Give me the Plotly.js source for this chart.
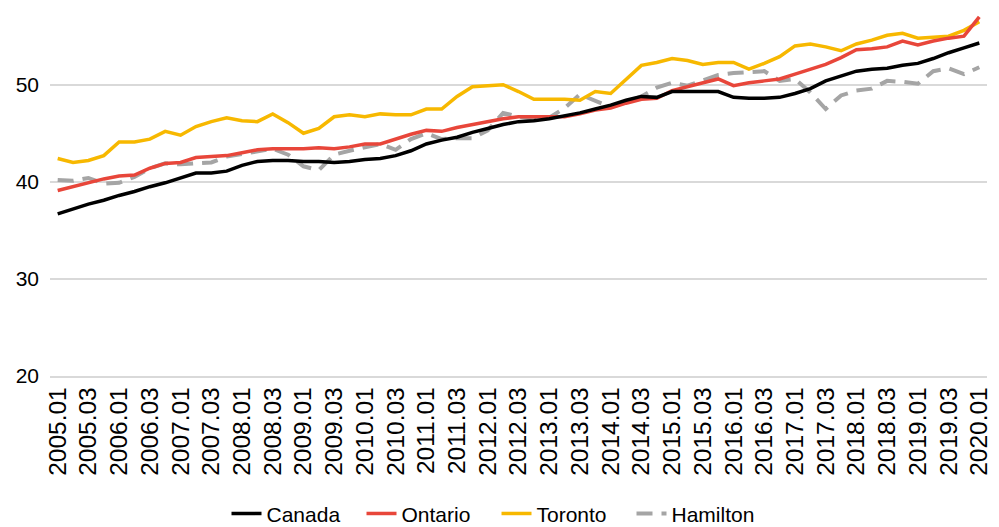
<!DOCTYPE html>
<html>
<head>
<meta charset="utf-8">
<script src="https://cdn.plot.ly/plotly-3.0.1.min.js"></script>
<style>html,body{margin:0;padding:0;background:#fff;}#chart{width:999px;height:527px;}</style>
</head>
<body>
<div id="chart"></div>
<script>
const years = [2005,2006,2007,2008,2009,2010,2011,2012,2013,2014,2015,2016,2017,2018,2019];
const quarters = ["01","02","03","04"];
const periods = [];
for (const y of years) for (const q of quarters) periods.push(y + "." + q);
periods.push("2020.01");

const canada = [36.7,37.2,37.7,38.1,38.6,39.0,39.5,39.9,40.4,40.9,
  40.9,41.1,41.7,42.1,42.2,42.2,42.1,42.1,42.0,42.1,
  42.3,42.4,42.7,43.2,43.9,44.3,44.6,45.1,45.5,45.9,
  46.2,46.3,46.5,46.8,47.1,47.5,47.9,48.4,48.8,48.7,
  49.3,49.3,49.3,49.3,48.7,48.6,48.6,48.7,49.1,49.6,
  50.4,50.9,51.4,51.6,51.7,52.0,52.2,52.7,53.3,53.8,54.3];
const ontario = [39.1,39.5,39.9,40.3,40.6,40.7,41.4,41.9,42.0,42.5,
  42.6,42.7,43.0,43.3,43.4,43.4,43.4,43.5,43.4,43.6,
  43.9,43.9,44.4,44.9,45.3,45.2,45.6,45.9,46.2,46.5,
  46.7,46.7,46.7,46.7,47.0,47.4,47.6,48.1,48.5,48.6,
  49.4,49.8,50.2,50.6,49.9,50.2,50.4,50.6,51.1,51.6,
  52.1,52.8,53.6,53.7,53.9,54.5,54.1,54.5,54.8,55.0,57.0];
const toronto = [42.4,42.0,42.2,42.7,44.1,44.1,44.4,45.2,44.8,45.7,
  46.2,46.6,46.3,46.2,47.0,46.1,45.0,45.5,46.7,46.9,
  46.7,47.0,46.9,46.9,47.5,47.5,48.8,49.8,49.9,50.0,
  49.3,48.5,48.5,48.5,48.4,49.3,49.1,50.6,52.0,52.3,
  52.7,52.5,52.1,52.3,52.3,51.6,52.2,52.9,54.0,54.2,
  53.9,53.5,54.2,54.6,55.1,55.3,54.8,54.9,55.0,55.6,56.5];
const hamilton = [40.2,40.1,40.4,39.8,39.9,40.5,41.4,41.9,41.8,41.9,
  42.0,42.6,42.9,43.1,43.4,42.8,41.6,41.2,42.8,43.2,
  43.6,43.9,43.3,44.4,45.0,44.4,44.5,44.5,45.3,47.1,
  46.7,46.5,46.6,47.6,49.0,48.3,47.7,48.2,48.8,49.7,
  50.2,49.9,50.5,51.0,51.2,51.3,51.4,50.4,50.6,49.2,
  47.5,48.9,49.4,49.6,50.4,50.3,50.1,51.4,51.7,51.1,51.8];

const tickLabels = periods.filter((p, i) => i % 2 === 0);
const yTicks = [20, 30, 40, 50];

const seriesNames = ["Canada", "Ontario", "Toronto", "Hamilton"];
const seriesData = [canada, ontario, toronto, hamilton];
const seriesColors = ["#000000", "#E8463A", "#F7B800", "#A5A5A5"];
const seriesDash = ["solid", "solid", "solid", "16px,9px"];
const seriesWidth = [3.5, 3.5, 3.5, 4];

const traces = seriesNames.map((n, k) => ({
  type: "scatter", mode: "lines", name: n,
  x: periods, y: seriesData[k],
  line: {color: seriesColors[k], width: seriesWidth[k], dash: seriesDash[k]},
  hoverinfo: "x+y+name"
}));
const ordered = [traces[3], traces[2], traces[1], traces[0]];

const font = '"Liberation Sans", Arial, sans-serif';
const layout = {
  width: 999, height: 527,
  margin: {l: 50, r: 12, t: 10, b: 151},
  paper_bgcolor: "#ffffff", plot_bgcolor: "#ffffff",
  showlegend: true,
  legend: {orientation: "h", x: 0.497, xref: "container", xanchor: "center",
    y: 0.025, yref: "container", yanchor: "middle",
    font: {family: font, size: 21, color: "#000"}, traceorder: "reversed",
    itemwidth: 30, entrywidth: 90},
  xaxis: {
    type: "category", categoryorder: "array", categoryarray: periods,
    range: [-0.5, periods.length - 0.5], automargin: false,
    tickmode: "array", tickvals: tickLabels, ticktext: tickLabels,
    tickangle: -90, showgrid: false, zeroline: false,
    showline: true, linecolor: "#D9D9D9", linewidth: 1.5,
    ticks: "", tickfont: {family: font, size: 24.5, color: "#000"}
  },
  yaxis: {
    range: [20, 57.7], tickmode: "array", tickvals: yTicks, automargin: false,
    showgrid: true, gridcolor: "#D9D9D9", gridwidth: 1.5,
    zeroline: false, showline: false, ticks: "",
    ticklabelstandoff: 10,
    tickfont: {family: font, size: 21, color: "#000"}
  }
};
Plotly.newPlot("chart", ordered, layout, {displayModeBar: false, staticPlot: true});
</script>
</body>
</html>
